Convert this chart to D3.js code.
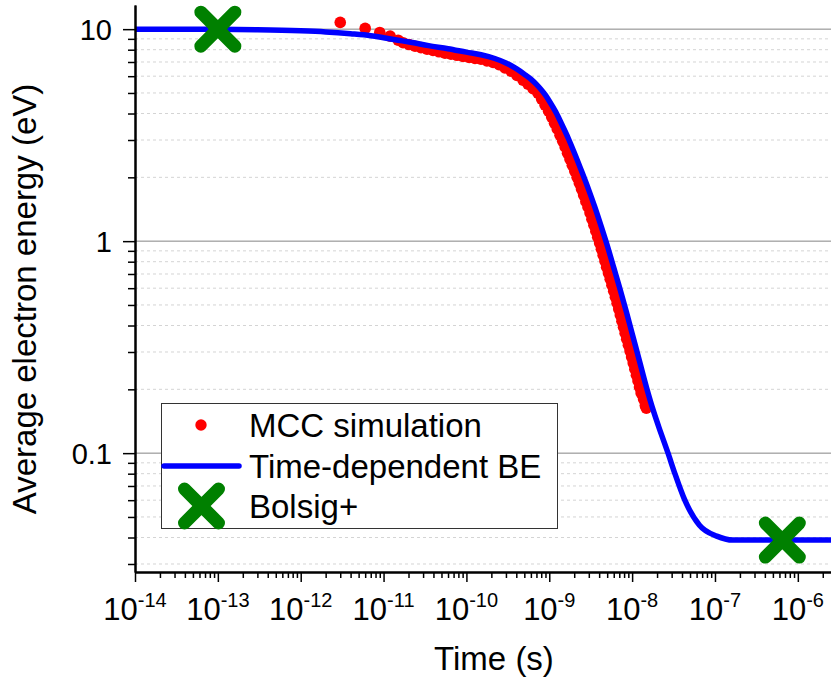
<!DOCTYPE html>
<html><head><meta charset="utf-8">
<script src="https://cdn.jsdelivr.net/npm/d3@7"></script>
<style>
body{margin:0;background:#fff;}
svg{display:block;font-family:Arial,"Liberation Sans",sans-serif;}
</style>
</head><body>
<svg id="chart" width="831" height="679"></svg>
<script>
// ---- data ----
const mccTime = [3e-12, 6e-12, 9e-12, 1.2e-11, 1.5e-11, 1.72e-11, 2.03e-11, 2.40e-11, 2.83e-11, 3.35e-11, 3.95e-11, 4.67e-11, 5.52e-11, 6.52e-11, 7.70e-11, 9.10e-11, 1.08e-10, 1.27e-10, 1.50e-10, 1.77e-10, 2.10e-10, 2.48e-10, 2.92e-10, 3.46e-10, 4.08e-10, 4.82e-10, 5.54e-10, 6.37e-10, 7.31e-10,
  8.09e-10, 8.91e-10, 9.82e-10, 1.070e-9, 1.157e-9, 1.247e-9, 1.348e-9, 1.453e-9, 1.553e-9, 1.661e-9, 1.775e-9, 1.897e-9, 2.028e-9, 2.168e-9, 2.305e-9, 2.450e-9, 2.597e-9, 2.761e-9, 2.927e-9, 3.102e-9, 3.270e-9, 3.457e-9, 3.645e-9, 3.842e-9, 4.050e-9, 4.258e-9, 4.467e-9, 4.695e-9, 4.922e-9, 5.174e-9, 5.440e-9, 5.703e-9, 5.995e-9, 6.285e-9, 6.589e-9, 6.890e-9, 7.203e-9, 7.530e-9, 7.872e-9, 8.230e-9, 8.604e-9, 9.020e-9, 9.434e-9, 9.863e-9, 1.031e-8, 1.078e-8, 1.127e-8, 1.178e-8, 1.228e-8, 1.284e-8, 1.373e-8, 1.443e-8, 1.484e-8];
const mccEnergy = [10.76, 10.08, 9.65, 9.27, 8.87, 8.63, 8.46, 8.31, 8.18, 8.05, 7.93, 7.82, 7.71, 7.62, 7.53, 7.44, 7.36, 7.28, 7.21, 7.08, 6.96, 6.80, 6.57, 6.34, 6.05, 5.75, 5.50, 5.24, 4.99,
  4.68, 4.38, 4.10, 3.85, 3.60, 3.38, 3.16, 2.96, 2.78, 2.60, 2.44, 2.28, 2.14, 2.00, 1.88, 1.76, 1.65, 1.54, 1.45, 1.36, 1.27, 1.19, 1.115, 1.044, 0.979, 0.917, 0.859, 0.805, 0.754, 0.707, 0.662, 0.620, 0.581, 0.544, 0.510, 0.478, 0.448, 0.419, 0.393, 0.368, 0.345, 0.323, 0.303, 0.284, 0.266, 0.249, 0.233, 0.219, 0.205, 0.192, 0.180, 0.168, 0.163];

const beTime = [1e-14, 1e-13, 3e-13, 1e-12, 2e-12, 4e-12, 7e-12, 1e-11, 1.5e-11, 2.2e-11, 3.5e-11, 6e-11, 1e-10, 1.5e-10, 2.2e-10, 3e-10, 4e-10, 5e-10, 6e-10, 7e-10, 8e-10, 9e-10, 1e-9, 1.2e-9, 1.4e-9, 1.7e-9, 2e-9, 2.5e-9, 3e-9, 3.5e-9, 4e-9, 5e-9, 6e-9, 7e-9, 8.5e-9, 1e-8, 1.2e-8, 1.5e-8, 1.8e-8, 2.2e-8, 2.7e-8, 3.3e-8, 4.3e-8, 6.5e-8, 1.05e-7, 1.65e-7, 3e-6];
const beEnergy = [10, 9.99, 9.94, 9.82, 9.70, 9.51, 9.31, 9.11, 8.87, 8.65, 8.36, 8.09, 7.79, 7.57, 7.27, 6.93, 6.51, 6.13, 5.81, 5.485, 5.177, 4.883, 4.585, 4.06, 3.59, 3.05, 2.62, 2.10, 1.74, 1.47, 1.257, 0.956, 0.750, 0.611, 0.466, 0.367, 0.281, 0.2025, 0.159, 0.126, 0.1005, 0.0796, 0.0603, 0.0457, 0.0406, 0.0389, 0.0389];

const bolsigTime = [1e-13, 6.5e-7];
const bolsigEnergy = [10, 0.0389];

const xTickExponents = [-14, -13, -12, -11, -10, -9, -8, -7, -6];
const yTickValues = [0.1, 1, 10];
const yTickLabels = ["0.1", "1", "10"];
const legendLabels = ["MCC simulation", "Time-dependent BE", "Bolsig+"];
const xTitle = "Time (s)";
const yTitle = "Average electron energy (eV)";

// ---- scales ----
const svg = d3.select("#chart");
const pL = 135, pR = 830.8, pT = 5, pB = 572;
const x = d3.scaleLog().domain([1e-14, 2.5e-6]).range([pL, pR]);
const y = d3.scaleLog().domain([0.0275, 13]).range([pB, pT]);

svg.append("rect").attr("width", 831).attr("height", 679).attr("fill", "#fff");

// minor / major horizontal grid
const minorY = [];
[0.01, 0.1, 1].forEach(d => { for (let k = 2; k <= 9; k++) { const v = d * k; if (v >= 0.0275 && v <= 13) minorY.push(v); } });
svg.append("g").selectAll("line").data(minorY).join("line")
  .attr("x1", pL).attr("x2", 831).attr("y1", d => y(d)).attr("y2", d => y(d))
  .attr("stroke", "#d4d4d4").attr("stroke-width", 1).attr("stroke-dasharray", "3,3");
svg.append("g").selectAll("line").data(yTickValues).join("line")
  .attr("x1", pL).attr("x2", 831).attr("y1", d => y(d)).attr("y2", d => y(d))
  .attr("stroke", "#858585").attr("stroke-width", 1);

// clip
svg.append("clipPath").attr("id", "clip").append("rect")
  .attr("x", pL).attr("y", pT).attr("width", 831 - pL).attr("height", pB - pT);
const plot = svg.append("g").attr("clip-path", "url(#clip)");

// MCC dots
const mcc = mccTime.map((t, i) => [t, mccEnergy[i]]);
plot.append("g").selectAll("circle").data(mcc).join("circle")
  .attr("cx", d => x(d[0])).attr("cy", d => y(d[1])).attr("r", 5.8).attr("fill", "#ff0000");

// BE line
const be = beTime.map((t, i) => [t, beEnergy[i]]);
plot.append("path").datum(be)
  .attr("d", d3.line().x(d => x(d[0])).y(d => y(d[1])).curve(d3.curveMonotoneX))
  .attr("fill", "none").attr("stroke", "#0000ff").attr("stroke-width", 5.5).attr("stroke-linejoin", "round");

// Bolsig crosses
function cross(g, cx, cy) {
  const a = 17;
  g.append("path").attr("d", `M${cx - a},${cy - a}L${cx + a},${cy + a}M${cx - a},${cy + a}L${cx + a},${cy - a}`)
    .attr("stroke", "#008000").attr("stroke-width", 13).attr("stroke-linecap", "round").attr("fill", "none");
}
const crossG = svg.append("g");
bolsigTime.forEach((t, i) => cross(crossG, x(t), y(bolsigEnergy[i])));

// axes
const majorX = xTickExponents.map(e => Math.pow(10, e));
const minorX = [];
for (let e = -14; e <= -6; e++) for (let k = 2; k <= 9; k++) { const v = k * Math.pow(10, e); if (v <= 2.5e-6) minorX.push(v); }
const xAxisG = svg.append("g").attr("transform", `translate(0,${pB})`);
xAxisG.append("g").call(d3.axisBottom(x).tickValues(minorX).tickSize(6).tickSizeOuter(0).tickFormat(""));
xAxisG.append("g").call(d3.axisBottom(x).tickValues(majorX).tickSize(10).tickSizeOuter(0).tickFormat(""));
xAxisG.selectAll("path.domain").attr("stroke", "#000").attr("stroke-width", 2);
xAxisG.selectAll(".tick line").attr("stroke", "#000").attr("stroke-width", 1.5);

const minorYT = [];
[0.01, 0.1, 1, 10].forEach(d => { for (let k = 2; k <= 9; k++) { const v = d * k; if (v >= 0.0275 && v <= 13) minorYT.push(v); } });
const yAxisG = svg.append("g").attr("transform", `translate(${pL},0)`);
yAxisG.append("g").call(d3.axisLeft(y).tickValues(minorYT).tickSize(7).tickSizeOuter(0).tickFormat(""));
const yMaj = yAxisG.append("g").call(d3.axisLeft(y).tickValues(yTickValues).tickSize(12).tickSizeOuter(0).tickPadding(11)
  .tickFormat((d, i) => yTickLabels[i]));
yAxisG.selectAll("path.domain").attr("stroke", "#000").attr("stroke-width", 2);
yAxisG.selectAll(".tick line").attr("stroke", "#000").attr("stroke-width", 1.5);
yMaj.selectAll(".tick text").attr("font-size", 29).attr("font-family", "Arial, 'Liberation Sans', sans-serif").attr("fill", "#000").attr("dy", "0.36em");

// x tick labels with superscripts
const xl = svg.append("g").selectAll("text").data(xTickExponents).join("text")
  .attr("x", d => x(Math.pow(10, d))).attr("y", 620).attr("text-anchor", "middle").attr("font-size", 31).attr("fill", "#000");
xl.append("tspan").text("10");
xl.append("tspan").attr("dy", -13).attr("font-size", 20).text(d => String(d));

// titles
svg.append("text").attr("x", 494).attr("y", 670).attr("text-anchor", "middle").attr("font-size", 33).attr("fill", "#000").text(xTitle);
svg.append("text").attr("transform", "translate(36,299) rotate(-90)").attr("text-anchor", "middle").attr("font-size", 33).attr("fill", "#000").text(yTitle);

// legend
const lg = svg.append("g");
lg.append("rect").attr("x", 161.5).attr("y", 403.5).attr("width", 396).attr("height", 125).attr("fill", "#fff").attr("stroke", "#333").attr("stroke-width", 1);
const rowsY = [425, 466, 506];
lg.append("circle").attr("cx", 201).attr("cy", rowsY[0]).attr("r", 5.7).attr("fill", "#ff0000");
lg.append("line").attr("x1", 164).attr("x2", 239).attr("y1", rowsY[1]).attr("y2", rowsY[1]).attr("stroke", "#0000ff").attr("stroke-width", 5.5).attr("stroke-linecap", "round");
cross(lg, 201.5, rowsY[2]);
lg.selectAll("text.lab").data(legendLabels).join("text").attr("class", "lab")
  .attr("x", 249).attr("y", (d, i) => rowsY[i] + 12).attr("font-size", 33).attr("fill", "#000").text(d => d);
</script>
</body></html>
